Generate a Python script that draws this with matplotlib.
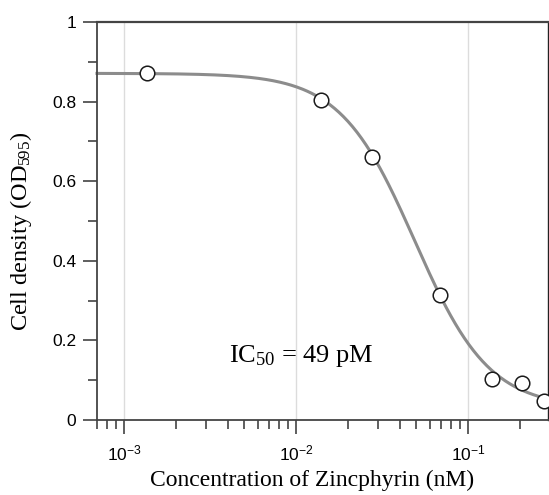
import numpy as np
import matplotlib
matplotlib.use("Agg")
import matplotlib.pyplot as plt
from matplotlib.ticker import LogLocator, NullFormatter, MultipleLocator

plt.rcParams['font.family'] = ['Liberation Sans', 'DejaVu Sans']
plt.rcParams['mathtext.default'] = 'regular'

# Data
conc_nM = [0.00137, 0.0139, 0.0275, 0.0686, 0.138, 0.206, 0.275]
density = [0.872, 0.804, 0.661, 0.314, 0.102, 0.094, 0.048]

# Fitted 4-parameter logistic curve parameters
fit_top = 0.871
fit_bottom = 0.03
fit_ic50 = 0.049
fit_hill = 2.0

xticks = [1e-3, 1e-2, 1e-1]
xticklabels = ['$10^{-3}$', '$10^{-2}$', '$10^{-1}$']
yticks = [0, 0.2, 0.4, 0.6, 0.8, 1]
yticklabels = ['0', '0.2', '0.4', '0.6', '0.8', '1']

fig = plt.figure(figsize=(5.49, 4.95), dpi=100)
ax = fig.add_axes([97/549, 75/495, (548-97)/549, (420-22)/495])

xmin, xmax = 6.97e-4, 0.292
xf = np.logspace(np.log10(xmin), np.log10(xmax), 400)
yf = fit_bottom + (fit_top - fit_bottom) / (1 + (xf / fit_ic50) ** fit_hill)

for xt in xticks:
    ax.axvline(xt, color='#dcdcdc', lw=1.0, zorder=0)

ax.plot(xf, yf, color='#8c8c8c', lw=2.2, zorder=2, clip_on=False)
ax.plot(conc_nM, density, 'o', ms=10.5, mfc='white', mec='#1a1a1a', mew=1.1,
        zorder=3, clip_on=False)

ax.set_xscale('log')
ax.set_xlim(xmin, xmax)
ax.set_ylim(0, 1)
ax.set_xticks(xticks)
ax.set_xticklabels(xticklabels)
ax.xaxis.set_minor_locator(LogLocator(base=10, subs=np.arange(2, 10), numticks=20))
ax.xaxis.set_minor_formatter(NullFormatter())
ax.set_yticks(yticks)
ax.set_yticklabels(yticklabels)
ax.yaxis.set_minor_locator(MultipleLocator(0.1))

ax.tick_params(which='major', direction='out', length=10, width=1.1, color='#333333',
               labelsize=12.5, pad=5)
ax.tick_params(which='minor', direction='out', length=6.5, width=1.1, color='#333333')
ax.tick_params(axis='x', which='major', pad=7)

for s in ['left', 'bottom']:
    ax.spines[s].set_color('#444444')
    ax.spines[s].set_linewidth(1.3)
ax.spines['top'].set_color('#444444')
ax.spines['top'].set_linewidth(1.6)
ax.spines['right'].set_color('#222222')
ax.spines['right'].set_linewidth(1.0)

ax.set_xlabel('Concentration of Zincphyrin (nM)', family='Liberation Serif',
              fontsize=17)
ax.xaxis.set_label_coords(0.477, -0.125)
ax.set_ylabel('Cell density (OD$_{595}$)', family='Liberation Serif',
              fontsize=17.5)
ax.yaxis.set_label_coords(-0.14, 0.475)

ax.text(0.293, 0.162, 'IC$_{50}$ = 49 pM', transform=ax.transAxes,
        family='Liberation Serif', fontsize=19, ha='left', va='center')

fig.savefig('out.png', dpi=100)
